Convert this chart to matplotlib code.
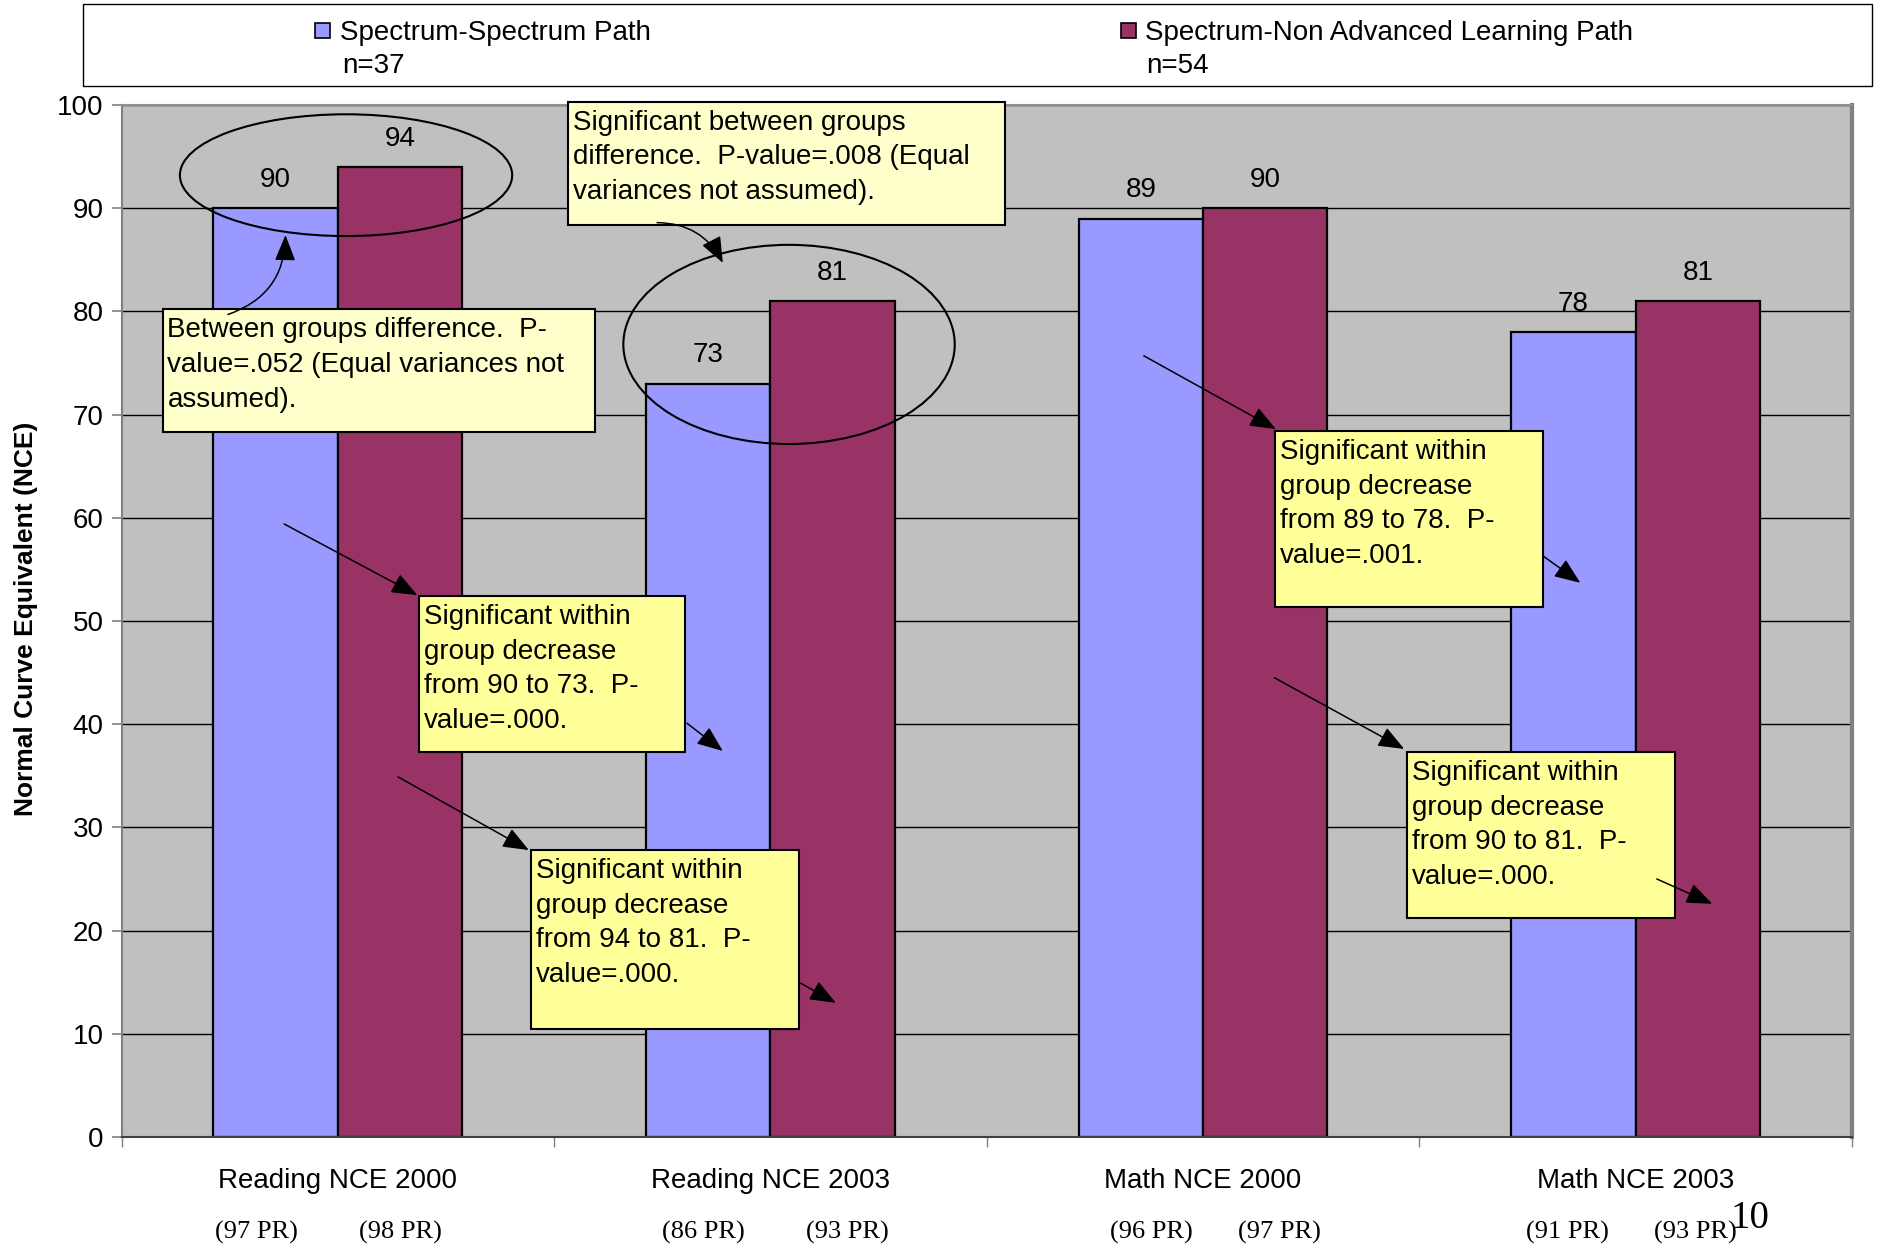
import matplotlib
matplotlib.use("Agg")
import matplotlib.pyplot as plt
from matplotlib.patches import Rectangle, Ellipse
import numpy as np

plt.rcParams['font.family'] = ['Liberation Sans', 'DejaVu Sans']

# ---------------- data ----------------
categories = ["Reading NCE 2000", "Reading NCE 2003", "Math NCE 2000", "Math NCE 2003"]
spectrum_path = [90, 73, 89, 78]
non_advanced_path = [94, 81, 90, 81]
pr_spectrum = ["(97 PR)", "(86 PR)", "(96 PR)", "(91 PR)"]
pr_non_advanced = ["(98 PR)", "(93 PR)", "(97 PR)", "(93 PR)"]
series_labels = ["Spectrum-Spectrum Path", "Spectrum-Non Advanced Learning Path"]
series_n = ["n=37", "n=54"]
yticks = list(range(0, 101, 10))

BLUE = "#9999FF"
MAROON = "#993366"
BG = "#C0C0C0"

W, H = 1880, 1246
fig = plt.figure(figsize=(W / 100, H / 100), dpi=100)
fig.patch.set_facecolor("white")

ax = fig.add_axes([121.5 / W, 109 / H, 1730.5 / W, 1032 / H])
ax.set_facecolor(BG)
ax.set_xlim(-0.5, 3.5)
ax.set_ylim(0, 100)

x = np.arange(len(categories))
bw = 0.2875
ax.bar(x - bw / 2, spectrum_path, bw, color=BLUE, edgecolor="black", linewidth=1.6, zorder=2)
ax.bar(x + bw / 2, non_advanced_path, bw, color=MAROON, edgecolor="black", linewidth=1.6, zorder=2)

for xi, v in zip(x - bw / 2, spectrum_path):
    ax.annotate(str(v), (xi, v), xytext=(0, 11), textcoords="offset points",
                ha="center", va="bottom", fontsize=20, zorder=5)
for xi, v in zip(x + bw / 2, non_advanced_path):
    ax.annotate(str(v), (xi, v), xytext=(0, 11), textcoords="offset points",
                ha="center", va="bottom", fontsize=20, zorder=5)

# grid
ax.set_yticks(yticks)
ax.yaxis.grid(True, color="black", linewidth=1.0, zorder=0)
ax.set_axisbelow(True)
ax.tick_params(axis="y", direction="out", length=7, width=1.2, color="#808080",
               labelsize=20, pad=6)
ax.set_xticks(np.arange(-0.5, 3.6, 1.0))
ax.set_xticklabels([])
ax.tick_params(axis="x", direction="out", length=7, width=1.0, color="#808080")
for s in ax.spines.values():
    s.set_color("#808080")
    s.set_linewidth(1.5)
ax.spines["right"].set_linewidth(3)
ax.spines["top"].set_color("#909090")
ax.spines["bottom"].set_color("#404040")

# category labels and PR labels (label offsets from group centre, in axis units)
pr_left_offset = [-0.188, -0.155, -0.119, -0.158]
pr_right_offset = [0.144, 0.177, 0.177, 0.138]
for xi, c in zip(x, categories):
    ax.text(xi, -4.25, c, ha="center", va="center", fontsize=20, clip_on=False)
for xi, off, p in zip(x, pr_left_offset, pr_spectrum):
    ax.text(xi + off, -9.25, p, ha="center", va="center", fontsize=19,
            family="Liberation Serif", clip_on=False)
for xi, off, p in zip(x, pr_right_offset, pr_non_advanced):
    ax.text(xi + off, -9.25, p, ha="center", va="center", fontsize=19,
            family="Liberation Serif", clip_on=False)

# y label
fig.text(26.4 / W, 1 - 619 / H, "Normal Curve Equivalent (NCE)", rotation=90,
         ha="center", va="center", fontsize=19, fontweight="bold")

# page number
fig.text(1750 / W, 1 - 1218 / H, "10", ha="center", va="center", fontsize=28,
         family="Liberation Serif")

# ---------------- legend ----------------
fig.patches.append(Rectangle((82.7 / W, 1 - 86.3 / H), (1871.6 - 82.7) / W, 82.7 / H,
                             transform=fig.transFigure, facecolor="white",
                             edgecolor="black", linewidth=1.0))
for mx, tx, col, lab, n in [(315, 340.5, BLUE, series_labels[0], series_n[0]),
                            (1121, 1145, MAROON, series_labels[1], series_n[1])]:
    fig.patches.append(Rectangle((mx / W, 1 - 38 / H), 15 / W, 15 / H,
                                 transform=fig.transFigure, facecolor=col,
                                 edgecolor="black", linewidth=1.2))
    fig.text(tx / W, 1 - 33.5 / H, lab, ha="left", va="center", fontsize=20)
    fig.text((tx + 1.5) / W, 1 - 66 / H, n, ha="left", va="center", fontsize=20)

# ---------------- ellipses ----------------
ax.add_patch(Ellipse((0.019, 93.2), 0.768, 11.8, fill=False, edgecolor="black",
                     linewidth=1.5, zorder=4, clip_on=False))
ax.add_patch(Ellipse((1.043, 76.8), 0.766, 19.3, fill=False, edgecolor="black",
                     linewidth=1.5, zorder=4))

# ---------------- text boxes ----------------
LIGHT = "#FFFFCC"
YEL = "#FFFF99"
boxes = [
    ((0.533, 88.4, 1.543, 100.3), LIGHT,
     "Significant between groups\ndifference.  P-value=.008 (Equal\nvariances not assumed)."),
    ((-0.405, 68.3, 0.5946, 80.2), LIGHT,
     "Between groups difference.  P-\nvalue=.052 (Equal variances not\nassumed)."),
    ((0.187, 37.3, 0.802, 52.4), YEL,
     "Significant within\ngroup decrease\nfrom 90 to 73.  P-\nvalue=.000."),
    ((0.447, 10.5, 1.065, 27.8), YEL,
     "Significant within\ngroup decrease\nfrom 94 to 81.  P-\nvalue=.000."),
    ((2.1665, 51.4, 2.7866, 68.4), YEL,
     "Significant within\ngroup decrease\nfrom 89 to 78.  P-\nvalue=.001."),
    ((2.471, 21.25, 3.091, 37.3), YEL,
     "Significant within\ngroup decrease\nfrom 90 to 81.  P-\nvalue=.000."),
]
for (x0, y0, x1, y1), fc, s in boxes:
    ax.add_patch(Rectangle((x0, y0), x1 - x0, y1 - y0, facecolor=fc,
                           edgecolor="black", linewidth=1.5, zorder=6, clip_on=False))
    ax.annotate(s, (x0, y1), xytext=(3.5, -5.5), textcoords="offset points",
                ha="left", va="top", fontsize=20, linespacing=1.44, zorder=7,
                annotation_clip=False)

# ---------------- arrows ----------------
arrow_kw = dict(arrowstyle="-|>,head_length=0.4,head_width=0.16", color="black",
                lw=1.1, mutation_scale=40, shrinkA=0, shrinkB=0)
straight = [
    ((-0.124, 59.4), (0.184, 52.5)),
    ((0.807, 40.1), (0.890, 37.4)),
    ((0.139, 34.9), (0.4415, 27.8)),
    ((1.070, 14.9), (1.151, 13.0)),
    ((1.863, 75.7), (2.168, 68.6)),
    ((2.786, 56.3), (2.872, 53.7)),
    ((2.165, 44.5), (2.465, 37.6)),
    ((3.049, 25.0), (3.177, 22.6)),
]
for (s0, s1) in straight:
    ax.annotate("", xy=s1, xytext=s0, arrowprops=dict(**arrow_kw), zorder=8)

ax.annotate("", xy=(-0.121, 87.4), xytext=(-0.254, 79.7),
            arrowprops=dict(connectionstyle="arc3,rad=0.35", **arrow_kw), zorder=8)
ax.annotate("", xy=(0.890, 84.7), xytext=(0.738, 88.6),
            arrowprops=dict(connectionstyle="arc3,rad=-0.3", **arrow_kw), zorder=8)

fig.savefig("out.png", dpi=100)
